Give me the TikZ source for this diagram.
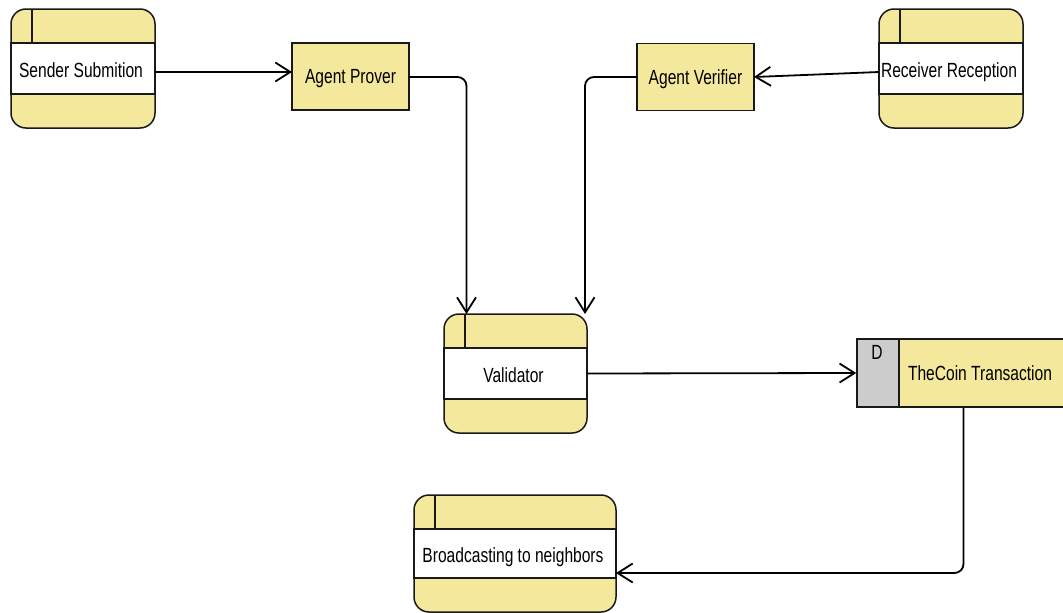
\documentclass[tikz,border=0pt]{standalone}
\usepackage{fontspec}
\setmainfont[FakeStretch=0.76]{Liberation Sans}
\usetikzlibrary{arrows.meta}

\definecolor{dfdyellow}{RGB}{243,232,155}
\definecolor{dfdgray}{RGB}{204,204,204}
\definecolor{edgecol}{RGB}{25,25,25}

\tikzset{
  boxline/.style={draw=edgecol, line width=1.5pt},
  lbl/.style={inner sep=0pt, outer sep=0pt, text depth=0pt,
              font=\fontsize{20.5}{22}\selectfont, text=black},
  flow/.style={draw=black, line width=1.8pt, rounded corners=9pt,
               -{Straight Barb[length=15pt,width=19pt,line width=1.8pt]}},
  agentbox/.style={boxline, fill=dfdyellow, lbl, minimum width=117pt, minimum height=67pt},
}

% process box: name, x1, y1, x2, y2, label (y grows downwards)
\newcommand\dfdprocess[6]{%
  \draw[boxline, fill=dfdyellow, rounded corners=15pt] (#2,#3) rectangle (#4,#5);
  \draw[boxline, fill=white] (#2,#3+34) rectangle (#4,#5-34);
  \draw[boxline] (#2+21,#3) -- (#2+21,#3+34);
  \node[inner sep=0pt, outer sep=0pt,
        minimum width={(#4-#2)*1pt}, minimum height={(#5-#3)*1pt}]
    (#1) at ({(#2+#4)/2},{(#3+#5)/2}) {};
  \node[lbl] (#1-text) at ([xshift=-2pt,yshift=-2pt]#1.center) {#6};
}

\begin{document}
\begin{tikzpicture}[x=1pt,y=-1pt]
  \useasboundingbox (0,0) rectangle (1063,613);
  \clip (0,0) rectangle (1063,613);

  % external entities and processes
  \dfdprocess{sender}{11}{9}{155}{128}{Sender Submition}
  \dfdprocess{receiver}{879}{9}{1023}{128}{Receiver Reception}
  \dfdprocess{validator}{444}{314}{587}{433}{Validator}
  \dfdprocess{broadcast}{414}{495}{616}{612}{Broadcasting to neighbors}

  % agents
  \node[agentbox] (prover) at (350.5,76.5) {Agent Prover};
  \node[agentbox] (verifier) at (695.5,77) {Agent Verifier};

  % data store
  \node[boxline, fill=dfdyellow, minimum width=213pt, minimum height=68pt, inner sep=0pt]
    (coin) at (963.5,373) {};
  \draw[boxline, fill=dfdgray] (857,339) rectangle (899,407);
  \node[lbl] (coinid) at (877,352) {D};
  \node[lbl, anchor=west] (coinlbl) at (908,373) {TheCoin Transaction};

  % data flows
  \draw[flow] ([yshift=-3.5pt]sender.east) -- ([yshift=4.5pt]prover.west);
  \draw[flow] ([yshift=-0.5pt]prover.east) -| ([xshift=-49pt]validator.north);
  \draw[flow] ([yshift=-3.5pt]receiver.west) -- (verifier.east);
  \draw[flow] (verifier.west) -| ([xshift=69.5pt]validator.north);
  \draw[flow] (validator.east) -- (coin.west);
  \draw[flow] (coin.south) |- ([yshift=-19.5pt]broadcast.east);
\end{tikzpicture}
\end{document}
